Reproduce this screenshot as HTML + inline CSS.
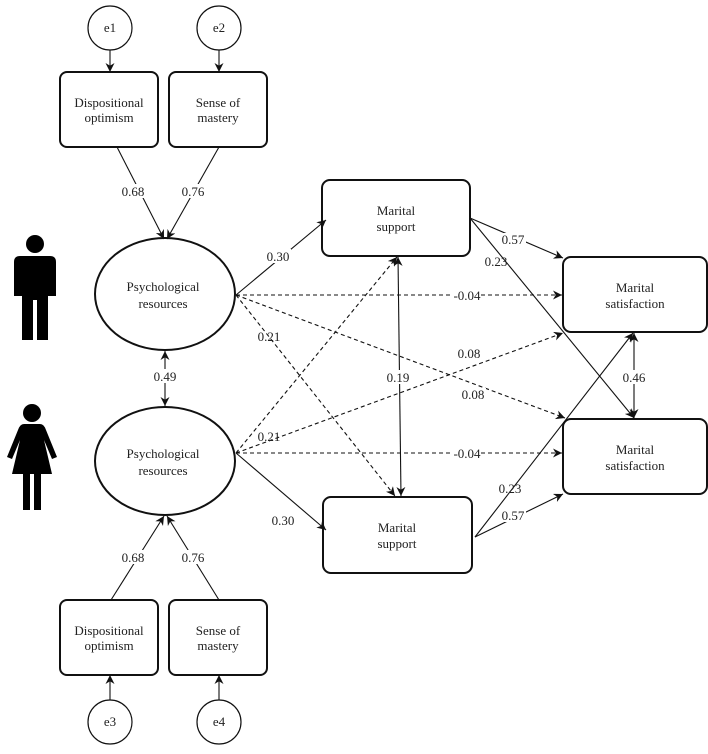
<!DOCTYPE html>
<html><head><meta charset="utf-8"><style>
html,body{margin:0;padding:0;background:#fff;}
svg{display:block;}
text{font-family:"Liberation Serif",serif;font-size:13px;fill:#222;}
</style></head><body>
<svg width="708" height="754" viewBox="0 0 708 754" xmlns="http://www.w3.org/2000/svg">
<defs>
<marker id="a" viewBox="0 0 10 10" refX="10" refY="5" markerWidth="9" markerHeight="9" orient="auto-start-reverse" markerUnits="userSpaceOnUse"><path d="M0,0 L10,5 L0,10 L3,5 z" fill="#111"/></marker>
</defs>
<g fill="#fff" stroke="#111" stroke-width="1.2">
<circle cx="110" cy="28" r="22"/><circle cx="219" cy="28" r="22"/>
<circle cx="110" cy="722" r="22"/><circle cx="219" cy="722" r="22"/>
</g>
<g fill="#fff" stroke="#111" stroke-width="2">
<rect x="60" y="72" width="98" height="75" rx="7"/>
<rect x="169" y="72" width="98" height="75" rx="7"/>
<rect x="60" y="600" width="98" height="75" rx="7"/>
<rect x="169" y="600" width="98" height="75" rx="7"/>
<ellipse cx="165" cy="294" rx="70" ry="56"/>
<ellipse cx="165" cy="461" rx="70" ry="54"/>
<rect x="322" y="180" width="148" height="76" rx="8"/>
<rect x="323" y="497" width="149" height="76" rx="8"/>
<rect x="563" y="257" width="144" height="75" rx="8"/>
<rect x="563" y="419" width="144" height="75" rx="8"/>
</g>
<g stroke="#111" stroke-width="1.1" fill="none" marker-end="url(#a)">
<line x1="110" y1="50" x2="110" y2="72"/>
<line x1="219" y1="50" x2="219" y2="72"/>
<line x1="110" y1="700" x2="110" y2="675"/>
<line x1="219" y1="700" x2="219" y2="675"/>
<line x1="117" y1="147" x2="164" y2="239"/>
<line x1="219" y1="147" x2="167" y2="239"/>
<line x1="111" y1="600" x2="164" y2="516"/>
<line x1="219" y1="600" x2="167" y2="516"/>
<line x1="165" y1="351" x2="165" y2="406" marker-start="url(#a)"/>
<line x1="236" y1="295" x2="326" y2="220"/>
<line x1="236" y1="453" x2="326" y2="530"/>
<line x1="470" y1="218" x2="563" y2="258"/>
<line x1="470" y1="218" x2="634" y2="418"/>
<line x1="475" y1="537" x2="633" y2="333"/>
<line x1="475" y1="537" x2="563" y2="494"/>
<line x1="398" y1="257" x2="401" y2="496" marker-start="url(#a)"/>
<line x1="634" y1="333" x2="634" y2="418" marker-start="url(#a)"/>
</g>
<g stroke="#111" stroke-width="1.1" fill="none" stroke-dasharray="4,3" marker-end="url(#a)">
<line x1="236" y1="295" x2="562" y2="295"/>
<line x1="236" y1="295" x2="565" y2="418"/>
<line x1="236" y1="295" x2="395" y2="496"/>
<line x1="236" y1="453" x2="397" y2="257"/>
<line x1="236" y1="453" x2="563" y2="333"/>
<line x1="236" y1="453" x2="562" y2="453"/>
</g>
<g text-anchor="middle">
<text x="110" y="32">e1</text><text x="219" y="32">e2</text>
<text x="110" y="726">e3</text><text x="219" y="726">e4</text>
<text x="109" y="107">Dispositional</text><text x="109" y="122">optimism</text>
<text x="218" y="107">Sense of</text><text x="218" y="122">mastery</text>
<text x="109" y="635">Dispositional</text><text x="109" y="650">optimism</text>
<text x="218" y="635">Sense of</text><text x="218" y="650">mastery</text>
<text x="163" y="291">Psychological</text><text x="163" y="308">resources</text>
<text x="163" y="458">Psychological</text><text x="163" y="475">resources</text>
<text x="396" y="215">Marital</text><text x="396" y="231">support</text>
<text x="397" y="532">Marital</text><text x="397" y="548">support</text>
<text x="635" y="292">Marital</text><text x="635" y="308">satisfaction</text>
<text x="635" y="454">Marital</text><text x="635" y="470">satisfaction</text>
</g>
<g text-anchor="middle">
<g fill="#fff" stroke="none">
<rect x="120" y="184" width="26" height="14"/><rect x="180" y="184" width="26" height="14"/>
<rect x="120" y="550" width="26" height="14"/><rect x="180" y="550" width="26" height="14"/>
<rect x="152" y="369" width="26" height="14"/>
<rect x="265" y="249" width="26" height="14"/><rect x="270" y="513" width="26" height="14"/>
<rect x="453" y="288" width="28" height="14"/><rect x="453" y="446" width="28" height="14"/>
<rect x="385" y="370" width="26" height="14"/><rect x="621" y="370" width="26" height="14"/>
<rect x="500" y="233" width="26" height="13"/><rect x="500" y="509" width="26" height="13"/>
<rect x="456" y="347" width="26" height="13"/><rect x="460" y="388" width="26" height="13"/>
</g>
<text x="133" y="196">0.68</text><text x="193" y="196">0.76</text>
<text x="133" y="562">0.68</text><text x="193" y="562">0.76</text>
<text x="165" y="381">0.49</text>
<text x="278" y="261">0.30</text><text x="283" y="525">0.30</text>
<text x="269" y="341">0.21</text><text x="269" y="441">0.21</text>
<text x="467" y="300">-0.04</text><text x="467" y="458">-0.04</text>
<text x="469" y="358">0.08</text><text x="473" y="399">0.08</text>
<text x="398" y="382">0.19</text><text x="634" y="382">0.46</text>
<text x="513" y="244">0.57</text><text x="496" y="266">0.23</text>
<text x="513" y="520">0.57</text><text x="510" y="493">0.23</text>
</g>
<g fill="#000">
<circle cx="35" cy="244" r="9"/>
<path d="M20,256 H50 Q56,256 56,262 V296 H48 V340 H37 V300 H33 V340 H22 V296 H14 V262 Q14,256 20,256 Z"/>
<circle cx="32" cy="413" r="9"/>
<path d="M24,424 H40 Q44,424 46,430 L57,457 L52,459 L44,440 L52,474 H41 V510 H34 V474 H30 V510 H23 V474 H12 L20,440 L12,459 L7,457 L18,430 Q20,424 24,424 Z"/>
</g>
</svg>
</body></html>
